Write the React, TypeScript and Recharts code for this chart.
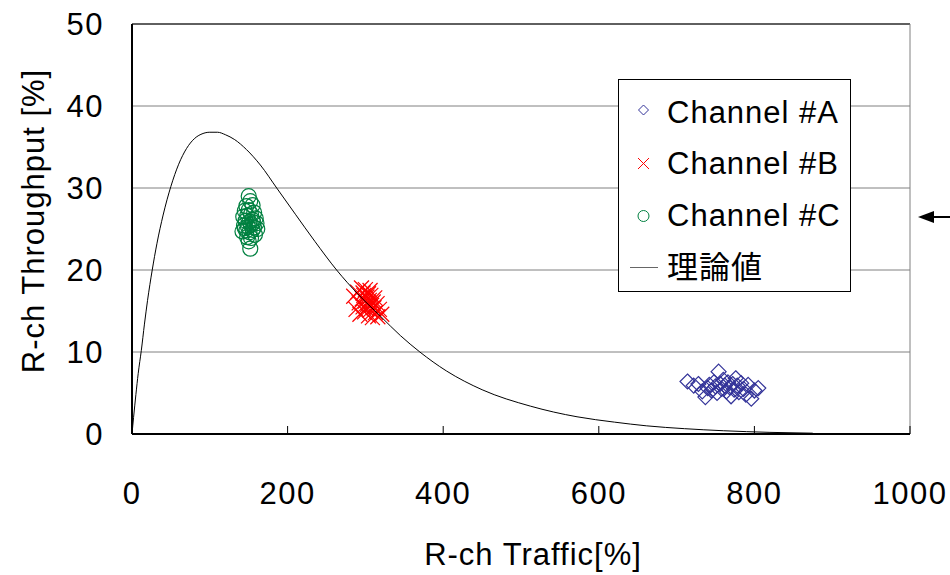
import React from 'react';
import { ScatterChart, Scatter, XAxis, YAxis, CartesianGrid, ReferenceLine } from 'recharts';

const FONT = '"Liberation Sans", Arial, "Noto Sans CJK JP", sans-serif';
const NAVY = '#333399';
const RED = '#FF0000';
const GREEN = '#008040';

const xTicks = [0, 200, 400, 600, 800, 1000];
const yTicks = [0, 10, 20, 30, 40, 50];

const seriesNames = ['Channel #A', 'Channel #B', 'Channel #C', '理論値'];

const channelA: [number, number][] = [
  [714, 6.4], [722, 5.9], [728, 6.1], [733, 5.2], [737, 4.5], [740, 5.6], [742, 6.0], [745, 5.3],
  [748, 6.3], [750, 5.8], [752, 5.0], [754, 7.6], [756, 6.1], [758, 5.5], [760, 6.6], [762, 5.9],
  [764, 5.2], [766, 6.3], [768, 5.7], [770, 4.6], [772, 6.1], [774, 5.4], [776, 6.8], [778, 5.9],
  [780, 5.1], [783, 6.2], [786, 5.5], [789, 4.8], [792, 6.0], [796, 4.3], [800, 5.3], [805, 5.6],
];

const channelB: [number, number][] = [
  [285, 16.8], [288, 15.2], [290, 17.3], [292, 16.0], [293, 14.6], [295, 17.8], [296, 16.5], [297, 15.5],
  [298, 16.9], [299, 14.9], [300, 17.6], [300, 16.2], [301, 15.3], [302, 16.7], [303, 15.8], [304, 17.1],
  [304, 14.4], [305, 16.3], [306, 15.1], [307, 16.9], [308, 15.7], [309, 14.2], [310, 16.1], [311, 15.4],
  [312, 16.6], [313, 14.8], [315, 15.9], [316, 14.3], [318, 15.2], [321, 14.6], [297, 17.2], [303, 16.0],
  [306, 17.5],
];

const channelC: [number, number][] = [
  [150, 29.0], [152, 28.4], [147, 27.8], [155, 27.9], [145, 27.2], [150, 27.3], [157, 27.0], [143, 26.5],
  [148, 26.6], [153, 26.8], [159, 26.3], [146, 26.0], [151, 25.9], [155, 26.1], [160, 25.7], [144, 25.4],
  [149, 25.3], [153, 25.5], [157, 25.2], [161, 25.0], [147, 24.8], [151, 24.6], [155, 24.9], [142, 24.7],
  [158, 24.3], [148, 24.0], [153, 23.9], [150, 23.5], [152, 22.6], [156, 25.8], [145, 25.1],
];

const theory: [number, number][] = [
  [0, 0], [2, 2.0], [5, 4.8], [8, 7.4], [12, 10.2], [16, 13.4], [20, 16.3], [26, 20.0], [32, 23.2],
  [40, 26.7], [50, 30.2], [60, 32.9], [70, 34.8], [80, 36.0], [90, 36.6], [100, 36.8], [110, 36.8],
  [120, 36.5], [132, 35.9], [147, 34.7], [165, 32.8], [186, 30.0], [210, 26.8], [235, 23.5], [263, 20.0],
  [290, 17.1], [319, 14.4], [345, 12.0], [370, 10.0], [404, 7.7], [450, 5.4], [512, 3.4], [572, 2.1],
  [620, 1.45], [661, 1.0], [710, 0.65], [760, 0.4], [820, 0.2], [875, 0.1],
];

const toPts = (arr: [number, number][]) => arr.map(([x, y]) => ({ x, y }));

const DiamondShape = (p: any) => {
  const { cx, cy } = p;
  const r = 7.5;
  return (
    <polygon
      points={`${cx},${cy - r} ${cx + r},${cy} ${cx},${cy + r} ${cx - r},${cy}`}
      fill="none"
      stroke={NAVY}
      strokeWidth={1.2}
    />
  );
};

const CrossShape = (p: any) => {
  const { cx, cy } = p;
  const r = 7.5;
  return (
    <g stroke={RED} strokeWidth={1.2}>
      <line x1={cx - r} y1={cy - r} x2={cx + r} y2={cy + r} />
      <line x1={cx - r} y1={cy + r} x2={cx + r} y2={cy - r} />
    </g>
  );
};

const CircleShape = (p: any) => {
  const { cx, cy } = p;
  return <circle cx={cx} cy={cy} r={7.5} fill="none" stroke={GREEN} strokeWidth={1.2} />;
};

const NoShape = () => <g />;

const YTitle = () => (
  <text
    x={33}
    y={221}
    transform="rotate(-90, 33, 221)"
    textAnchor="middle"
    dominantBaseline="central"
    fontFamily={FONT}
    fontSize={31}
    letterSpacing={1}
    fill="#000"
  >
    R-ch Throughput [%]
  </text>
);

const XTitle = () => (
  <text x={533} y={565} textAnchor="middle" fontFamily={FONT} fontSize={31} letterSpacing={1} fill="#000">
    R-ch Traffic[%]
  </text>
);

const LegendBox = () => {
  const rowY = [33, 84, 136, 188];
  return (
    <div
      style={{
        position: 'absolute',
        left: 618,
        top: 79,
        width: 233,
        height: 213,
        boxSizing: 'border-box',
        border: '1px solid #000',
        background: '#fff',
        fontFamily: FONT,
        fontSize: 31,
        letterSpacing: 1,
        color: '#000',
      }}
    >
      <svg width={231} height={211} style={{ position: 'absolute', left: 0, top: 0 }}>
        <polygon points="24.5,25 29.5,30 24.5,35 19.5,30" fill="none" stroke={NAVY} strokeWidth={1} />
        <g stroke={RED} strokeWidth={1}>
          <line x1={19} y1={78} x2={30} y2={89} />
          <line x1={19} y1={89} x2={30} y2={78} />
        </g>
        <circle cx={24.5} cy={136} r={5.5} fill="none" stroke={GREEN} strokeWidth={1} />
        <line x1={11} y1={187.5} x2={39} y2={187.5} stroke="#666" strokeWidth={1} />
      </svg>
      {seriesNames.map((n, i) => (
        <div
          key={n}
          style={{
            position: 'absolute',
            left: 48,
            top: rowY[i] - 18,
            height: 36,
            lineHeight: '36px',
            whiteSpace: 'nowrap',
          }}
        >
          {n}
        </div>
      ))}
    </div>
  );
};

export default function App() {
  return (
    <div style={{ position: 'absolute', left: 0, top: 0, width: 950, height: 575, background: '#fff' }}>
      <ScatterChart
        width={950}
        height={575}
        margin={{ top: 24, right: 40, bottom: 0, left: 0 }}
      >
        <CartesianGrid horizontal vertical={false} stroke="#808080" strokeWidth={1} />
        <XAxis
          type="number"
          dataKey="x"
          domain={[0, 1000]}
          ticks={xTicks}
          interval={0}
          height={141}
          axisLine={{ stroke: '#000', strokeWidth: 2 }}
          tickLine={{ stroke: '#000', strokeWidth: 1 }}
          tickSize={-8}
          tickMargin={56}
          tick={{ fill: '#000', fontSize: 31, fontFamily: FONT, letterSpacing: 1.5 }}
          label={<XTitle />}
          allowDataOverflow
        />
        <YAxis
          type="number"
          dataKey="y"
          domain={[0, 50]}
          ticks={yTicks}
          interval={0}
          width={132}
          axisLine={{ stroke: '#000', strokeWidth: 2 }}
          tickLine={false}
          tickSize={0}
          tickMargin={28}
          tick={{ fill: '#000', fontSize: 31, fontFamily: FONT, letterSpacing: 1.5 }}
          label={<YTitle />}
          allowDataOverflow
        />
        <ReferenceLine y={50} stroke="#000" strokeWidth={1} />
        <ReferenceLine x={1000} stroke="#808080" strokeWidth={1} />
        <Scatter name={seriesNames[0]} data={toPts(channelA)} shape={DiamondShape} isAnimationActive={false} />
        <Scatter name={seriesNames[1]} data={toPts(channelB)} shape={CrossShape} isAnimationActive={false} />
        <Scatter name={seriesNames[2]} data={toPts(channelC)} shape={CircleShape} isAnimationActive={false} />
        <Scatter
          name={seriesNames[3]}
          data={toPts(theory)}
          shape={NoShape}
          line={{ stroke: '#000', strokeWidth: 1 }}
          lineType="joint"
          lineJointType="monotoneX"
          isAnimationActive={false}
        />
      </ScatterChart>
      <LegendBox />
      <svg width={950} height={575} style={{ position: 'absolute', left: 0, top: 0, pointerEvents: 'none' }}>
        <line x1={930} y1={217} x2={950} y2={217} stroke="#000" strokeWidth={2} />
        <polygon points="918,217 934,211 934,223" fill="#000" />
      </svg>
    </div>
  );
}
